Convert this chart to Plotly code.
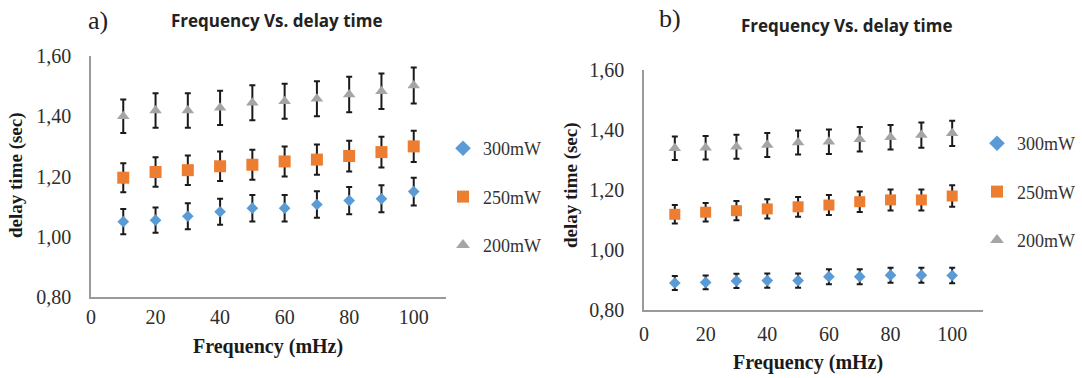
import plotly.graph_objects as go

# ---- data ----
freq = [10, 20, 30, 40, 50, 60, 70, 80, 90, 100]
series_names = ["300mW", "250mW", "200mW"]

# panel a
a_300 = [1.050, 1.055, 1.068, 1.083, 1.095, 1.095, 1.107, 1.120, 1.126, 1.150]
a_250 = [1.196, 1.215, 1.221, 1.234, 1.239, 1.250, 1.256, 1.268, 1.281, 1.300]
a_200 = [1.400, 1.419, 1.419, 1.428, 1.445, 1.450, 1.458, 1.472, 1.483, 1.502]
a_300_err = [0.042, 0.042, 0.043, 0.043, 0.044, 0.044, 0.044, 0.045, 0.045, 0.046]
a_250_err = [0.048, 0.049, 0.049, 0.049, 0.050, 0.050, 0.050, 0.051, 0.051, 0.052]
a_200_err = [0.056, 0.057, 0.057, 0.057, 0.058, 0.058, 0.058, 0.059, 0.059, 0.060]

# panel b
b_300 = [0.890, 0.892, 0.897, 0.898, 0.898, 0.911, 0.911, 0.916, 0.916, 0.915]
b_250 = [1.119, 1.126, 1.131, 1.137, 1.144, 1.150, 1.161, 1.167, 1.167, 1.180]
b_200 = [1.339, 1.341, 1.344, 1.350, 1.358, 1.361, 1.369, 1.376, 1.383, 1.389]
b_300_err = [0.023, 0.023, 0.024, 0.024, 0.024, 0.025, 0.025, 0.025, 0.025, 0.026]
b_250_err = [0.031, 0.031, 0.032, 0.032, 0.033, 0.033, 0.034, 0.035, 0.035, 0.036]
b_200_err = [0.039, 0.039, 0.040, 0.040, 0.040, 0.041, 0.041, 0.041, 0.042, 0.042]

y_tickvals = [0.8, 1.0, 1.2, 1.4, 1.6]
y_ticktext = ["0,80", "1,00", "1,20", "1,40", "1,60"]
x_tickvals = [0, 20, 40, 60, 80, 100]
x_ticktext = ["0", "20", "40", "60", "80", "100"]

colors = ["#5B9BD5", "#ED7D31", "#A5A5A5"]
symbols = ["diamond", "square", "triangle-up"]

W, H = 1082, 378
SERIF = "Liberation Serif"
SANS = "Open Sans"

fig = go.Figure()

panels = [
    ("x", "y", "legend", [a_300, a_250, a_200], [a_300_err, a_250_err, a_200_err], [9, 12, 11]),
    ("x2", "y2", "legend2", [b_300, b_250, b_200], [b_300_err, b_250_err, b_200_err], [9, 11, 11]),
]
for xa, ya, leg, vals, errs, sizes in panels:
    for i, name in enumerate(series_names):
        fig.add_trace(go.Scatter(
            x=freq, y=vals[i], mode="markers", name=name,
            xaxis=xa, yaxis=ya, legend=leg, legendgroup=leg + name,
            marker=dict(symbol=symbols[i], color=colors[i], size=sizes[i],
                        line=dict(width=0)),
            error_y=dict(type="data", array=errs[i], visible=True,
                         color="#1a1a1a", thickness=2, width=3),
        ))

def px_x(p):
    return p / W

def px_y(p):
    return 1 - p / H

def axis_style():
    return dict(showgrid=False, zeroline=False, showline=True,
                linecolor="#9a9a9a", linewidth=1.5, ticks="",
                tickfont=dict(family=SERIF, size=20, color="#2e2e2e"))

fig.update_layout(
    width=W, height=H,
    font=dict(family=SERIF),
    margin=dict(l=0, r=0, t=0, b=0, autoexpand=False),
    paper_bgcolor="white", plot_bgcolor="white",
    showlegend=True,
    xaxis=dict(domain=[px_x(91), px_x(446)], range=[0, 110], anchor="y",
               tickvals=x_tickvals, ticktext=x_ticktext, ticklabelstandoff=1,
               **axis_style()),
    yaxis=dict(domain=[px_y(297), px_y(56)], range=[0.8, 1.6], anchor="x",
               tickvals=y_tickvals, ticktext=y_ticktext, ticklabelstandoff=14,
               **axis_style()),
    xaxis2=dict(domain=[px_x(644), px_x(983)], range=[0, 110], anchor="y2",
                tickvals=x_tickvals, ticktext=x_ticktext, ticklabelstandoff=5,
                **axis_style()),
    yaxis2=dict(domain=[px_y(310), px_y(70)], range=[0.8, 1.6], anchor="x2",
                tickvals=y_tickvals, ticktext=y_ticktext, ticklabelstandoff=14,
                **axis_style()),
    legend=dict(x=px_x(443), y=px_y(130), xanchor="left", yanchor="top",
                traceorder="grouped", tracegroupgap=22,
                font=dict(family=SERIF, size=18, color="#333333"),
                bgcolor="rgba(0,0,0,0)", itemsizing="constant"),
    legend2=dict(x=px_x(977), y=px_y(125), xanchor="left", yanchor="top",
                 traceorder="grouped", tracegroupgap=22,
                 font=dict(family=SERIF, size=18, color="#333333"),
                 bgcolor="rgba(0,0,0,0)", itemsizing="constant"),
)

ann = []
# panel labels
ann.append(dict(text="a)", x=px_x(98), y=px_y(20), font=dict(family=SERIF, size=26, color="#222222")))
ann.append(dict(text="b)", x=px_x(670), y=px_y(18), font=dict(family=SERIF, size=26, color="#222222")))
# chart titles
ann.append(dict(text="<b>Frequency Vs. delay time</b>", x=px_x(276), y=px_y(20),
                font=dict(family=SANS, size=17, color="#222222")))
ann.append(dict(text="<b>Frequency Vs. delay time</b>", x=px_x(846), y=px_y(25),
                font=dict(family=SANS, size=17, color="#222222")))
# x-axis titles
ann.append(dict(text="<b>Frequency (mHz)</b>", x=px_x(268), y=px_y(346),
                font=dict(family=SERIF, size=20, color="#1a1a1a")))
ann.append(dict(text="<b>Frequency (mHz)</b>", x=px_x(808), y=px_y(362),
                font=dict(family=SERIF, size=20, color="#1a1a1a")))
# y-axis titles
ann.append(dict(text="<b>delay time (sec)</b>", x=px_x(16), y=px_y(175), textangle=-90,
                font=dict(family=SERIF, size=19, color="#1a1a1a")))
ann.append(dict(text="<b>delay time (sec)</b>", x=px_x(571), y=px_y(185), textangle=-90,
                font=dict(family=SERIF, size=19, color="#1a1a1a")))
for a in ann:
    a.update(xref="paper", yref="paper", showarrow=False, xanchor="center", yanchor="middle")
fig.update_layout(annotations=ann)

fig.write_html("out.html")
